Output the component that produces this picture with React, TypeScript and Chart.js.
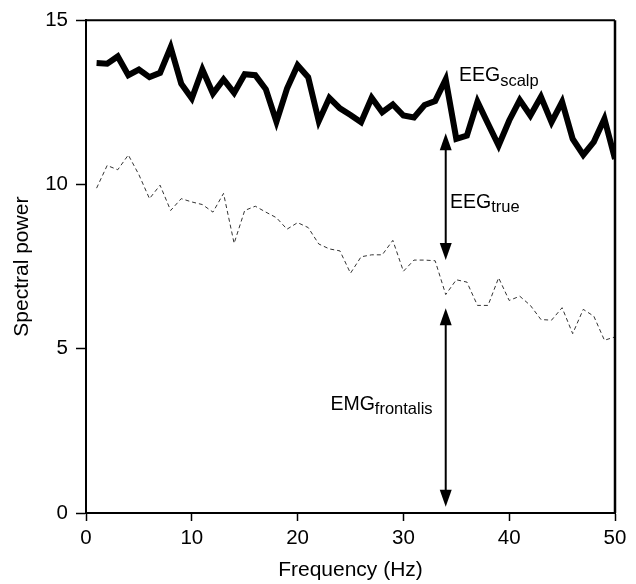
import { useEffect, useRef } from "react";
import { Chart, registerables } from "chart.js";

Chart.register(...registerables);

const frequencies = [
  1, 2, 3, 4, 5, 6, 7, 8, 9, 10, 11, 12, 13, 14, 15, 16, 17, 18, 19, 20, 21, 22, 23, 24, 25,
  26, 27, 28, 29, 30, 31, 32, 33, 34, 35, 36, 37, 38, 39, 40, 41, 42, 43, 44, 45, 46, 47, 48, 49, 50,
];

const eegScalp = [
  13.7, 13.68, 13.9, 13.33, 13.5, 13.27, 13.4, 14.18, 13.07, 12.62, 13.5, 12.77, 13.2, 12.79, 13.36,
  13.33, 12.9, 11.91, 12.92, 13.63, 13.27, 11.93, 12.64, 12.32, 12.12, 11.9, 12.64, 12.2, 12.44, 12.1,
  12.04, 12.42, 12.54, 13.2, 11.39, 11.49, 12.52, 11.85, 11.19, 11.95, 12.57, 12.1, 12.67, 11.9, 12.52,
  11.39, 10.9, 11.3, 12.0, 10.78,
];

const emgFrontalis = [
  9.89, 10.58, 10.45, 10.9, 10.3, 9.57, 9.98, 9.21, 9.57, 9.47, 9.39, 9.16, 9.73, 8.21, 9.21, 9.34,
  9.16, 8.99, 8.64, 8.84, 8.69, 8.19, 8.04, 7.98, 7.3, 7.8, 7.86, 7.86, 8.3, 7.36, 7.7, 7.7, 7.68,
  6.65, 7.1, 7.03, 6.32, 6.32, 7.16, 6.47, 6.6, 6.32, 5.89, 5.87, 6.25, 5.46, 6.2, 5.99, 5.26, 5.36,
];

const xTicks = [0, 10, 20, 30, 40, 50];
const yTicks = [0, 5, 10, 15];

// Double-headed arrows at 34 Hz: [from, to] in spectral power units
const arrowFreq = 34;
const arrowSpans = [
  [11.56, 7.7],
  [6.23, 0.19],
];

// Text annotations: main text, subscript, anchor (Hz, power at baseline)
const annotationMain = ["EEG", "EEG", "EMG"];
const annotationSub = ["scalp", "true", "frontalis"];
const annotationX = [35.25, 34.4, 23.1];
const annotationY = [13.14, 9.3, 3.14];

const FONT = '"Liberation Sans", Arial, Helvetica, sans-serif';

const decorPlugin = {
  id: "decor",
  afterDraw(chart: any) {
    const ctx = chart.ctx;
    const { left, right, top, bottom } = chart.chartArea;
    const xs = chart.scales.x;
    const ys = chart.scales.y;
    ctx.save();
    ctx.strokeStyle = "#000";
    ctx.fillStyle = "#000";
    // top and right frame
    ctx.lineWidth = 2;
    ctx.beginPath();
    ctx.moveTo(left, top);
    ctx.lineTo(right, top);
    ctx.stroke();
    ctx.lineWidth = 2.5;
    ctx.beginPath();
    ctx.moveTo(right, top);
    ctx.lineTo(right, bottom);
    ctx.stroke();

    // arrows
    const ax = xs.getPixelForValue(arrowFreq);
    const headLen = 17;
    const headHalf = 6;
    arrowSpans.forEach(([a, b]) => {
      const y1 = ys.getPixelForValue(a);
      const y2 = ys.getPixelForValue(b);
      ctx.lineWidth = 2;
      ctx.beginPath();
      ctx.moveTo(ax, y1 + headLen - 2);
      ctx.lineTo(ax, y2 - headLen + 2);
      ctx.stroke();
      ctx.beginPath();
      ctx.moveTo(ax, y1);
      ctx.lineTo(ax - headHalf, y1 + headLen);
      ctx.lineTo(ax + headHalf, y1 + headLen);
      ctx.closePath();
      ctx.fill();
      ctx.beginPath();
      ctx.moveTo(ax, y2);
      ctx.lineTo(ax - headHalf, y2 - headLen);
      ctx.lineTo(ax + headHalf, y2 - headLen);
      ctx.closePath();
      ctx.fill();
    });

    // labels with subscripts
    ctx.textBaseline = "alphabetic";
    ctx.textAlign = "left";
    annotationMain.forEach((main, i) => {
      const x = xs.getPixelForValue(annotationX[i]);
      const y = ys.getPixelForValue(annotationY[i]);
      ctx.font = `19.5px ${FONT}`;
      ctx.fillText(main, x, y);
      const w = ctx.measureText(main).width;
      ctx.font = `16.5px ${FONT}`;
      ctx.fillText(annotationSub[i], x + w, y + 4.5);
    });
    ctx.restore();
  },
};

export default function App() {
  const ref = useRef<HTMLCanvasElement | null>(null);

  useEffect(() => {
    if (!ref.current) return;
    const chart = new Chart(ref.current, {
      type: "line",
      data: {
        datasets: [
          {
            label: "EEG scalp",
            data: frequencies.map((f, i) => ({ x: f, y: eegScalp[i] })),
            borderColor: "#000",
            borderWidth: 6,
            pointRadius: 0,
            tension: 0,
            fill: false,
            borderJoinStyle: "miter",
          },
          {
            label: "EMG frontalis",
            data: frequencies.map((f, i) => ({ x: f, y: emgFrontalis[i] })),
            borderColor: "#333",
            borderWidth: 1,
            borderDash: [4, 3],
            pointRadius: 0,
            tension: 0,
            fill: false,
          },
        ],
      },
      options: {
        responsive: false,
        animation: false,
        events: [],
        layout: { padding: { left: 0, right: 21, top: 16, bottom: 0 } },
        plugins: {
          legend: { display: false },
          tooltip: { enabled: false },
          title: { display: false },
        },
        scales: {
          x: {
            type: "linear",
            min: 0,
            max: 50,
            afterBuildTicks: (scale: any) => {
              scale.ticks = xTicks.map((v) => ({ value: v }));
            },
            afterFit: (scale: any) => {
              scale.height = 71;
            },
            grid: {
              drawOnChartArea: false,
              drawTicks: true,
              tickLength: 8,
              tickWidth: 1.5,
              tickColor: "#000",
            },
            border: { display: true, color: "#000", width: 2 },
            ticks: {
              color: "#000",
              padding: 5,
              maxRotation: 0,
              autoSkip: false,
              font: { family: FONT, size: 20.5 },
            },
            title: {
              display: true,
              text: "Frequency (Hz)",
              color: "#000",
              font: { family: FONT, size: 21 },
              padding: { top: 0, bottom: 1 },
            },
          },
          y: {
            type: "linear",
            min: 0,
            max: 15,
            afterBuildTicks: (scale: any) => {
              scale.ticks = yTicks.map((v) => ({ value: v }));
            },
            afterFit: (scale: any) => {
              scale.width = 86;
            },
            grid: {
              drawOnChartArea: false,
              drawTicks: true,
              tickLength: 10,
              tickWidth: 1.5,
              tickColor: "#000",
            },
            border: { display: true, color: "#000", width: 2 },
            ticks: {
              color: "#000",
              padding: 8,
              autoSkip: false,
              font: { family: FONT, size: 20.5 },
            },
            title: {
              display: true,
              text: "Spectral power",
              color: "#000",
              font: { family: FONT, size: 21 },
              padding: { top: 10, bottom: 0 },
            },
          },
        },
      },
      plugins: [decorPlugin],
    });
    return () => chart.destroy();
  }, []);

  return (
    <div style={{ position: "absolute", left: 0, top: 0, width: 636, height: 584, background: "#fff" }}>
      <canvas ref={ref} width={636} height={584} style={{ display: "block", width: 636, height: 584 }} />
    </div>
  );
}
